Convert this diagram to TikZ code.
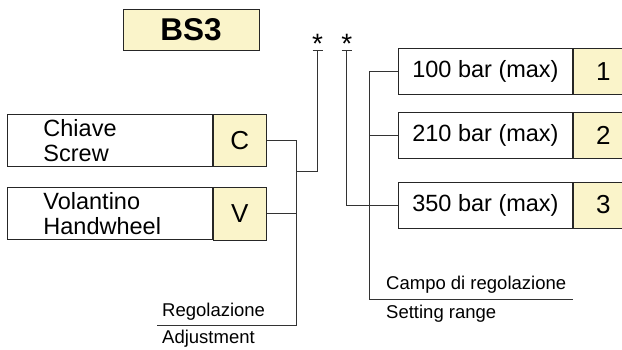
\documentclass[tikz,border=0pt]{standalone}
\usepackage{fontspec}
\setmainfont{Liberation Sans}
\usetikzlibrary{positioning}

\definecolor{codefill}{HTML}{FAF4CA}
\definecolor{wirec}{HTML}{333333}

\begin{document}
\begin{tikzpicture}
    [
        x=1pt, y=-1pt,
        node distance=0pt and 0pt,
        namebox/.style={draw=black!85, fill=white, rectangle, inner sep=0pt, line width=0.9pt},
        codebox/.style={draw=black!85, fill=codefill, rectangle, inner sep=0pt, line width=0.9pt,
                        font=\fontsize{26}{28}\selectfont},
        optbox/.style={namebox, minimum width=205pt, minimum height=52pt, inner xsep=36pt,
                       text width=133pt, align=left, font=\fontsize{23.5}{25.5}\selectfont},
        rangebox/.style={namebox, minimum width=174pt, minimum height=46pt,
                         font=\fontsize{23.5}{26}\selectfont},
        wire/.style={draw=wirec, line width=0.9pt},
        small/.style={inner sep=0pt, font=\fontsize{18.5}{20}\selectfont},
        starmark/.style={anchor=base, inner sep=0pt, font=\fontsize{28}{30}\selectfont}
    ]
        \useasboundingbox (0,0) rectangle (622,349);
        % =========================================================================
        % NODES
        % =========================================================================
        % --- Title ---
        \node [codebox, minimum width=136pt, minimum height=41pt, font=\fontsize{31.5}{33}\selectfont\bfseries]
            (title) at (191,29.5) {BS3};

        % --- Adjustment options ---
        \node [optbox, anchor=north west] (chiave) at (7,114) {Chiave\\Screw};
        \node [codebox, right=of chiave, minimum width=53pt, minimum height=52pt] (codeC) {C};
        \node [optbox, anchor=north west] (volantino) at (7,187) {Volantino\\Handwheel};
        \node [codebox, right=of volantino, minimum width=53pt, minimum height=53pt] (codeV) {V};

        % --- Setting range options ---
        \node [rangebox, anchor=north west] (range1) at (398,48) {100 bar (max)};
        \node [codebox, right=of range1, minimum width=60pt, minimum height=46pt] (code1) {1};
        \node [rangebox, anchor=north west] (range2) at (398,112) {210 bar (max)};
        \node [codebox, right=of range2, minimum width=60pt, minimum height=46pt] (code2) {2};
        \node [rangebox, anchor=north west] (range3) at (398,181.5) {350 bar (max)};
        \node [codebox, right=of range3, minimum width=60pt, minimum height=46pt] (code3) {3};

        % --- Stars ---
        \node [starmark] (star1) at (317.5,53) {*};
        \node [starmark] (star2) at (346.7,53) {*};

        % --- Captions ---
        \node [small, anchor=base west] (regol) at (162,316.5) {Regolazione};
        \node [small, anchor=base west] (adjust) at (162,343) {Adjustment};
        \node [small, anchor=base west] (campo) at (386,289) {Campo di regolazione};
        \node [small, anchor=base west] (setting) at (386,318) {Setting range};

        % --- Joints ---
        \coordinate (adjL) at (157,325.5);
        \coordinate (adjbot) at (296.7,325.5);
        \coordinate (s1top) at (317.7,50);
        \coordinate (s1join) at (296.7,171);
        \coordinate (s2top) at (346.7,50);
        \coordinate (rngbot) at (369.3,299);
        \coordinate (rngR) at (573,299);

        % =========================================================================
        % PATHS
        % =========================================================================
        % --- Adjustment ---
        \draw [wire] (codeC.east) -| (adjbot);
        \draw [wire] (codeV.east) -- (codeV.east -| adjbot);
        \draw [wire] (adjL) -- (adjbot);
        \draw [wire] (s1top) |- (s1join);
        \draw [wire] ([xshift=-5pt]s1top) -- ([xshift=5pt]s1top);

        % --- Setting range ---
        \draw [wire] (s2top) |- (range3.west);
        \draw [wire] ([xshift=-5pt]s2top) -- ([xshift=5pt]s2top);
        \draw [wire] (range1.west) -| (rngbot);
        \draw [wire] (range2.west) -- (range2.west -| rngbot);
        \draw [wire] (rngbot) -- (rngR);

    \end{tikzpicture}
\end{document}
